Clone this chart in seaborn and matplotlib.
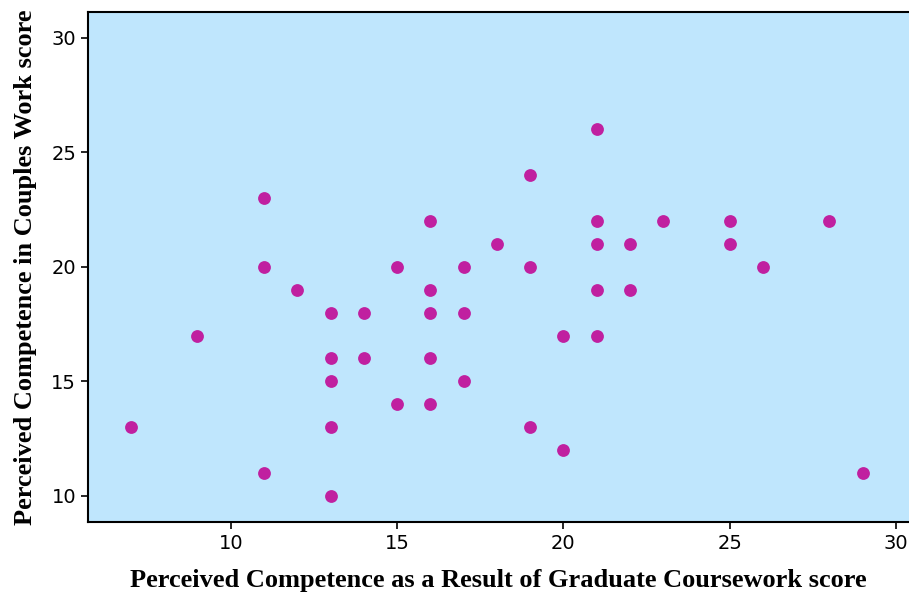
import pandas as pd
import matplotlib
matplotlib.use("Agg")
import matplotlib.pyplot as plt
import seaborn as sns

# data
coursework = [7, 9, 11, 11, 11, 12, 13, 13, 13, 13, 13, 14, 14, 15, 15,
              16, 16, 16, 16, 16, 17, 17, 17, 18, 19, 19, 19, 20, 20,
              21, 21, 21, 21, 21, 22, 22, 23, 25, 25, 26, 28, 29]
couples = [13, 17, 23, 20, 11, 19, 18, 16, 15, 13, 10, 18, 16, 20, 14,
           22, 19, 18, 16, 14, 20, 18, 15, 21, 24, 20, 13, 17, 12,
           26, 22, 21, 19, 17, 21, 19, 22, 22, 21, 20, 22, 11]
x_ticks = [10, 15, 20, 25, 30]
y_ticks = [10, 15, 20, 25, 30]

df = pd.DataFrame({"coursework": coursework, "couples": couples})

sns.set_style("ticks")
plt.rcParams["font.family"] = ["DejaVu Sans"]

fig = plt.figure(figsize=(9.09, 5.99), dpi=100)
ax = fig.add_axes([88 / 909, 77 / 599, 1 - 88 / 909, 510 / 599])
ax.set_facecolor("#bfe6fd")

sns.scatterplot(data=df, x="coursework", y="couples", ax=ax,
                color="#c020a0", s=85, linewidth=0, legend=False)

ax.set_xlim(5.71, 30.39)
ax.set_ylim(8.86, 31.13)
ax.set_xticks(x_ticks)
ax.set_yticks(y_ticks)
ax.tick_params(axis="both", labelsize=14, length=5, width=1.2,
               direction="out", colors="black")
for side in ["left", "bottom", "top"]:
    ax.spines[side].set_linewidth(1.5)
    ax.spines[side].set_color("black")
ax.spines["right"].set_visible(False)

label_font = dict(family="Liberation Serif", weight="bold", size=19,
                  color="black")
ax.set_xlabel("Perceived Competence as a Result of Graduate Coursework score",
              fontdict=label_font, labelpad=12)
ax.set_ylabel("Perceived Competence in Couples Work score",
              fontdict=label_font, labelpad=10)

fig.savefig("out.png", dpi=100)
